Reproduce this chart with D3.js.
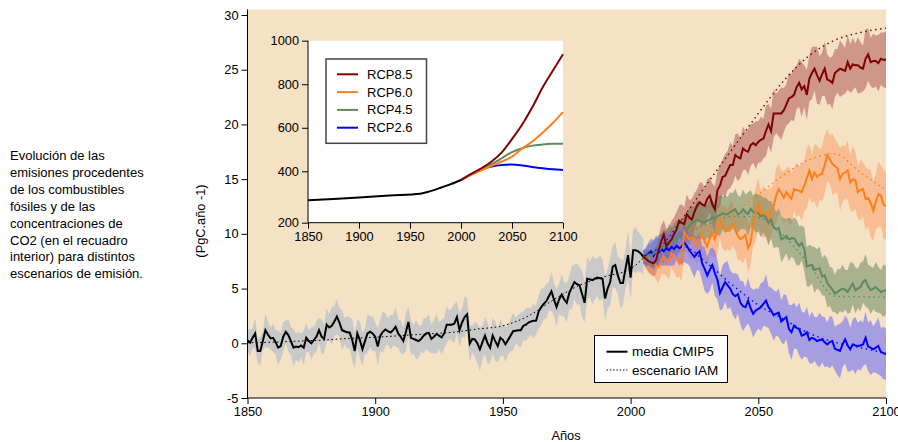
<!DOCTYPE html>
<html><head><meta charset="utf-8">
<script src="https://cdn.jsdelivr.net/npm/d3@7"></script>
<style>
body{margin:0;background:#fff}
svg{display:block}
text{font-family:"Liberation Sans",Arial,sans-serif;fill:#000}
</style>
</head><body>
<svg id="c" width="898" height="442"></svg>
<script>
// ---------------- DATA ----------------
const xTicks = [1850, 1900, 1950, 2000, 2050, 2100];
const yTicks = [-5, 0, 5, 10, 15, 20, 25, 30];
const insetXTicks = [1850, 1900, 1950, 2000, 2050, 2100];
const insetYTicks = [200, 400, 600, 800, 1000];

const descLines = ["Evolución de las", "emisiones procedentes", "de los combustibles",
  "fósiles y de las", "concentraciones de", "CO2 (en el recuadro",
  "interior) para distintos", "escenarios de emisión."];

// historical CMIP5 mean, annual 1850..2005 (PgC/año)
const histStart = 1850;
const histMean = [
  0.27, 0.06, 0.5, 0.9, -0.7, -0.7, 0.2, 1.2, 0.8, 0.45,
  0.5, 0.1, -0.4, -0.25, 0.6, 1.05, 0.75, 0.2, -0.4, -0.3,
  -0.35, -0.2, -0.4, 0.5, 0.2, 0.0, 0.3, 0.6, 1.2, 0.6,
  0.4, 1.7, 1.45, 1.6, 2.0, 2.45, 1.9, 1.2, 1.1, 1.0,
  0.98, 0.3, -0.7, 0.9, 0.3, -0.55, 0.2, 0.9, 1.05, 0.9,
  0.6, -0.3, 0.7, 1.05, 1.25, 1.1, 0.98, 1.2, 1.5, 0.9,
  0.6, 0.2, 1.0, 1.95, 0.5, 0.4, 0.3, 0.2, 0.4, 0.7,
  0.9, 0.95, 0.4, 0.6, 0.85, 0.7, 0.55, 0.9, 1.7, 1.7,
  1.7, 1.8, 2.4, 1.2, 1.9, 2.4, 2.65, -0.03, 0.4, 0.35,
  0.0, -0.55, 0.1, 0.7, 0.0, -0.4, 0.7, 0.2, -0.25, 0.5,
  0.3, -0.1, 0.3, 0.7, 1.1, 1.15, 1.2, 1.2, 1.6, 1.7,
  1.9, 2.0, 2.05, 2.06, 2.9, 3.3, 3.6, 3.85, 4.3, 4.75,
  4.0, 3.3, 4.0, 4.45, 4.0, 3.7, 4.6, 5.1, 5.6, 5.4,
  5.3, 4.5, 3.7, 5.9, 5.85, 5.77, 5.9, 6.0, 5.95, 5.9,
  4.1, 5.0, 5.6, 7.0, 7.15, 6.2, 5.5, 5.5, 6.8, 8.05,
  6.0, 8.5, 8.5, 8.4, 8.2, 7.9
];
const histSpread = [
  1.0, 1.2, 0.9, 1.4, 1.1, 1.3, 0.9, 1.5, 1.2, 1.0,
  1.3, 1.1, 1.6, 1.2, 1.4, 1.0, 1.5, 1.3, 1.7, 1.2,
  1.4, 1.1, 1.6, 1.3, 1.0, 1.5, 1.2, 1.4, 1.1, 1.6,
  1.3, 1.5, 1.2, 1.7, 1.4, 1.6, 1.3, 1.8, 1.2, 1.5,
  1.4, 1.9, 1.6, 1.3, 1.7, 1.5, 1.2, 1.8, 1.4, 1.6,
  1.3, 1.7, 1.4, 1.9, 1.5, 1.2, 1.6, 1.4, 1.8, 1.3,
  1.5, 1.2, 1.7, 1.4, 1.6, 1.3, 1.8, 1.5, 1.2, 1.6,
  1.4, 1.7, 1.3, 1.5, 1.8, 1.2, 1.6, 1.4, 1.7, 1.3,
  1.5, 1.8, 1.4, 1.6, 1.3, 1.9, 1.5, 1.7, 1.2, 1.6,
  1.8, 2.0, 1.5, 1.7, 1.9, 1.4, 1.6, 1.8, 1.5, 1.7,
  1.4, 1.6, 1.3, 1.5, 1.7, 1.2, 1.4, 1.6, 1.3, 1.5,
  1.4, 1.2, 1.6, 1.3, 1.5, 1.7, 1.4, 1.6, 1.3, 1.8,
  1.5, 1.7, 1.4, 1.9, 1.6, 1.8, 1.5, 2.0, 1.6, 1.9,
  1.7, 2.1, 1.8, 2.0, 1.6, 2.2, 1.9, 1.7, 2.1, 1.8,
  2.0, 1.8, 2.2, 1.9, 2.1, 1.7, 2.3, 2.0, 1.8, 2.2,
  2.0, 1.9, 2.1, 1.8, 1.7, 1.6
];
// IAM historical scenario (dotted)
const histIamYears = [1850, 1860, 1870, 1880, 1890, 1900, 1910, 1920, 1930, 1940, 1950, 1960, 1970, 1980, 1990, 2000, 2005];
const histIam = [0.05, 0.1, 0.2, 0.3, 0.45, 0.55, 0.7, 0.85, 1.0, 1.3, 1.6, 2.5, 4.0, 5.3, 6.1, 6.8, 7.8];

// RCP CMIP5 means, annual 2005..2100
const rcpStart = 2005;
const rcp85 = [
  7.9, 7.7, 7.5, 7.4, 7.3,
  7.6, 8.55, 9.3, 9.94, 8.86, 9.2, 9.48, 10.0, 10.4, 11.2,
  11.0, 10.9, 11.8, 11.5, 11.3, 12.0, 12.56, 12.9, 12.7, 12.56,
  13.2, 13.5, 12.7, 12.25, 14.0, 14.4, 15.2, 15.3, 15.8, 16.3,
  16.3, 17.2, 17.0, 16.9, 17.8, 17.6, 17.5, 18.1, 18.3, 18.1,
  18.4, 18.6, 18.7, 19.4, 20.0, 19.4, 21.0, 21.0, 21.0, 21.0,
  21.3, 21.8, 22.4, 22.5, 22.7, 23.4, 23.8, 23.2, 23.5, 22.7,
  24.2, 24.7, 25.1, 24.5, 24.0, 24.6, 25.1, 24.1, 24.0, 23.8,
  24.7, 24.9, 25.1, 25.0, 24.9, 25.7, 25.1, 25.5, 25.4, 25.4,
  25.2, 25.1, 26.0, 26.4, 25.7, 25.8, 25.8, 25.6, 26.0, 25.9,
  25.9
];
const rcp60 = [
  7.9, 7.6, 7.5, 7.4, 7.3,
  7.1, 7.0, 7.5, 7.9, 7.6, 7.5, 8.2, 8.0, 7.8, 7.5,
  7.3, 10.2, 9.8, 9.5, 9.7, 9.4, 8.9, 9.4, 9.9, 9.3,
  8.86, 9.6, 10.1, 9.5, 10.3, 11.3, 10.55, 10.5, 10.4, 10.7,
  10.9, 10.3, 9.8, 9.5, 9.7, 9.9, 8.7, 9.17, 11.0, 11.8,
  12.9, 11.9, 12.0, 11.9, 11.5, 12.0, 12.56, 13.5, 14.1, 13.7,
  13.3, 13.8, 13.5, 13.2, 14.1, 14.0, 13.95, 13.8, 14.4, 15.1,
  15.8, 15.0, 15.6, 15.2, 15.4, 15.5, 16.3, 17.2, 16.8, 16.4,
  16.2, 16.0, 15.0, 15.5, 15.6, 15.8, 14.7, 15.0, 14.9, 13.8,
  14.0, 14.1, 13.2, 13.3, 12.8, 12.1, 12.9, 13.6, 13.5, 12.7,
  12.5
];
const rcp45 = [
  7.9, 7.8, 8.1, 8.0, 8.2,
  8.4, 8.5, 8.7, 8.9, 9.0, 9.3, 9.2, 9.6, 9.5, 9.8,
  9.9, 10.1, 10.4, 10.7, 11.0, 11.1, 11.3, 11.2, 11.1, 11.0,
  11.2, 11.3, 11.5, 11.4, 11.6, 11.7, 11.9, 11.8, 11.8, 12.0,
  12.1, 12.25, 11.8, 11.9, 12.25, 12.0, 11.8, 12.3, 12.0, 11.9,
  11.9, 11.6, 11.7, 11.5, 11.0, 11.3, 10.6, 10.4, 10.55, 9.5,
  9.6, 9.8, 9.5, 9.6, 9.6, 9.2, 8.9, 9.17, 8.6, 7.0,
  7.1, 7.16, 6.7, 6.8, 6.85, 6.1, 6.2, 5.5, 5.2, 4.9,
  4.54, 4.7, 4.85, 5.0, 4.9, 4.7, 5.1, 5.45, 4.85, 5.0,
  5.15, 5.6, 5.77, 5.2, 4.85, 5.0, 5.15, 4.9, 4.69, 4.8,
  4.85
];
const rcp26 = [
  7.9, 8.0, 8.2, 8.4, 8.0,
  8.5, 8.3, 8.6, 8.4, 8.7, 8.5, 8.8, 8.6, 8.9, 8.7,
  8.8, 9.2, 8.9, 8.5, 8.2, 7.9, 8.2, 8.4, 7.3, 6.8,
  6.2, 6.7, 7.15, 6.4, 5.8, 4.6, 5.1, 5.6, 5.3, 5.0,
  4.5, 4.3, 4.5, 3.7, 3.4, 3.3, 3.9, 3.2, 2.7, 3.0,
  3.15, 3.3, 3.6, 3.9, 3.3, 3.0, 2.55, 2.7, 2.8, 2.0,
  2.2, 2.4, 1.3, 1.0, 1.6, 1.4, 1.3, 0.7, 0.8, 1.0,
  0.3, 0.5, 0.4, 0.2, 0.3, 0.35, 0.1, -0.1, 0.1, 0.2,
  -0.5, -0.6, -0.7, -0.1, 0.35, -0.2, -0.55, -0.1, -0.2, -0.25,
  -0.2, -0.1, 0.5, -0.3, -0.4, -0.55, -0.4, -0.25, -0.8, -0.9,
  -1.0
];
const spread85 = [
  0.6, 0.8, 1.0, 1.1, 1.2,
  1.3, 1.2, 1.5, 1.3, 1.6, 1.4, 1.7, 1.5, 1.6, 1.4,
  1.7, 1.5, 1.8, 1.6, 1.9, 1.7, 1.5, 1.8, 2.0, 1.6,
  1.8, 1.6, 1.9, 2.1, 1.7, 1.9, 1.6, 2.0, 1.8, 2.1,
  1.7, 1.9, 2.2, 1.8, 2.0, 1.7, 2.1, 1.9, 1.8, 2.2,
  1.9, 2.1, 1.8, 2.3, 1.9, 2.0, 2.2, 1.8, 2.1, 2.4,
  2.0, 1.9, 2.3, 2.1, 2.4, 2.0, 2.2, 2.5, 1.9, 2.3,
  2.1, 2.4, 2.0, 2.6, 2.2, 2.0, 2.5, 2.3, 2.1, 2.4,
  2.2, 2.0, 2.6, 2.3, 2.1, 2.5, 2.2, 2.4, 2.0, 2.6,
  2.3, 2.1, 2.7, 2.4, 2.2, 2.5, 2.3, 2.6, 2.4, 2.5,
  2.6
];
const spread60 = [
  0.6, 0.8, 1.0, 1.2, 1.1,
  1.3, 1.5, 1.2, 1.6, 1.4, 1.7, 1.3, 1.5, 1.8, 1.4,
  1.6, 1.9, 1.5, 1.7, 2.0, 1.6, 1.8, 1.5, 2.1, 1.7,
  1.9, 1.6, 2.0, 1.8, 2.2, 1.7, 1.9, 2.1, 1.8, 2.3,
  2.0, 1.8, 2.2, 1.9, 2.4, 2.0, 2.3, 1.9, 2.1, 2.5,
  2.2, 2.0, 2.4, 2.1, 2.6, 2.2, 2.0, 2.5, 2.3, 2.1,
  2.4, 2.2, 2.7, 2.3, 2.0, 2.5, 2.2, 2.6, 2.3, 2.8,
  2.4, 2.2, 2.6, 2.9, 2.3, 2.5, 2.7, 2.4, 2.2, 2.8,
  2.5, 2.3, 2.9, 2.6, 2.4, 2.7, 2.5, 3.0, 2.6, 2.4,
  2.8, 2.5, 2.9, 2.6, 3.1, 2.7, 2.5, 3.0, 2.8, 3.2,
  3.0
];
const spread45 = [
  0.6, 0.8, 1.0, 1.1, 1.3,
  1.2, 1.4, 1.3, 1.5, 1.2, 1.6, 1.4, 1.3, 1.7, 1.5,
  1.4, 1.6, 1.3, 1.7, 1.5, 1.4, 1.8, 1.6, 1.5, 1.7,
  1.5, 1.8, 1.6, 1.4, 1.7, 1.9, 1.5, 1.7, 1.6, 1.8,
  1.6, 1.9, 1.7, 1.5, 1.8, 1.6, 2.0, 1.7, 1.5, 1.8,
  1.7, 1.9, 1.6, 1.8, 2.0, 1.7, 1.9, 1.6, 1.8, 2.1,
  1.8, 1.6, 2.0, 1.7, 1.9, 2.1, 1.8, 1.6, 2.0, 1.8,
  1.9, 1.7, 2.1, 1.8, 2.0, 1.7, 1.9, 2.2, 1.8, 2.0,
  1.7, 2.1, 1.9, 2.2, 1.8, 2.0, 2.3, 1.9, 2.1, 1.8,
  2.2, 1.9, 2.4, 2.0, 2.2, 1.9, 2.3, 2.1, 2.0, 2.4,
  2.2
];
const spread26 = [
  0.6, 0.8, 1.0, 1.2, 1.3,
  1.4, 1.2, 1.5, 1.3, 1.6, 1.4, 1.7, 1.5, 1.3, 1.6,
  1.5, 1.8, 1.6, 1.4, 1.7, 1.9, 1.5, 1.8, 1.6, 2.0,
  1.7, 1.9, 1.6, 2.1, 1.8, 1.6, 2.0, 1.8, 2.2, 1.7,
  1.9, 2.1, 1.8, 2.0, 2.3, 1.8, 2.1, 1.9, 2.2, 2.0,
  1.8, 2.2, 2.0, 2.4, 1.9, 2.1, 2.3, 2.0, 2.2, 1.9,
  2.3, 2.0, 2.2, 2.5, 2.1, 1.9, 2.4, 2.2, 2.0, 2.3,
  2.1, 2.4, 2.0, 2.2, 2.5, 2.1, 2.3, 2.0, 2.4, 2.2,
  2.0, 2.3, 2.5, 2.1, 2.2, 2.4, 2.0, 2.3, 2.6, 2.1,
  2.3, 2.0, 2.4, 2.2, 2.5, 2.1, 2.3, 2.6, 2.2, 2.4,
  2.3
];
// IAM scenario emissions (dotted)
const iamYears = [2005, 2010, 2020, 2030, 2040, 2050, 2060, 2070, 2080, 2090, 2100];
const iam85 = [7.8, 8.4, 11.3, 14.6, 17.8, 21.0, 24.0, 26.3, 27.7, 28.4, 28.8];
const iam60 = [7.8, 8.0, 8.9, 10.4, 11.9, 13.6, 15.4, 16.8, 17.3, 15.6, 14.0];
const iam45 = [7.8, 8.4, 9.8, 10.9, 11.6, 11.5, 9.8, 7.2, 4.3, 4.25, 4.2];
const iam26 = [7.8, 8.4, 8.9, 7.3, 5.3, 3.5, 2.2, 0.9, 0.1, -0.4, -0.9];

// inset: CO2 concentration (ppm)
const co2HistYears = [1850, 1875, 1900, 1930, 1960, 1970, 1980, 1990, 2000];
const co2Hist = [287, 292, 298, 306, 313, 323, 336, 350, 366];
const co2Years = [2000, 2010, 2020, 2030, 2040, 2050, 2060, 2070, 2080, 2090, 2100];
const co285 = [366, 390, 414, 445, 487, 548, 615, 695, 785, 862, 938];
const co260 = [366, 386, 405, 425, 445, 467, 505, 537, 577, 622, 672];
const co245 = [366, 388, 410, 433, 460, 488, 506, 518, 523, 526, 527];
const co226 = [366, 388, 408, 422, 429, 431, 427, 420, 414, 409, 406];

const scenNames = ["RCP8.5", "RCP6.0", "RCP4.5", "RCP2.6"];
const legendMain = ["media CMIP5", "escenario IAM"];

// ---------------- DRAW ----------------
const colors = {"RCP8.5": "#800000", "RCP6.0": "#ff7f1a", "RCP4.5": "#5f8a60", "RCP2.6": "#0000ff"};
const bandFill = {"RCP8.5": "rgba(150,40,50,0.40)", "RCP6.0": "rgba(255,140,80,0.42)",
                  "RCP4.5": "rgba(80,120,80,0.45)", "RCP2.6": "rgba(95,95,255,0.52)"};
const scenMean = {"RCP8.5": rcp85, "RCP6.0": rcp60, "RCP4.5": rcp45, "RCP2.6": rcp26};
const scenSpread = {"RCP8.5": spread85, "RCP6.0": spread60, "RCP4.5": spread45, "RCP2.6": spread26};
const scenIam = {"RCP8.5": iam85, "RCP6.0": iam60, "RCP4.5": iam45, "RCP2.6": iam26};
const scenCo2 = {"RCP8.5": co285, "RCP6.0": co260, "RCP4.5": co245, "RCP2.6": co226};
const plainFmt = d => String(d);

const svg = d3.select("#c");
const L = 247.5, R = 886, B = 398, T = 9.5;
const x = d3.scaleLinear().domain([1850, 2100]).range([L, R]);
const y = d3.scaleLinear().domain([-5, 30]).range([B, 15]);

svg.append("defs").append("clipPath").attr("id", "plotclip")
  .append("rect").attr("x", L).attr("y", T).attr("width", R - L).attr("height", B - T);

svg.append("rect").attr("x", L).attr("y", T).attr("width", R - L).attr("height", B - T)
  .attr("fill", "#f5e1c3");

const plot = svg.append("g").attr("clip-path", "url(#plotclip)");

const histData = histMean.map((v, i) => ({yr: histStart + i, v, s: histSpread[i]}));
const band = d3.area().x(d => x(d.yr)).y0(d => y(d.v - d.s)).y1(d => y(d.v + d.s));
const line = d3.line().x(d => x(d.yr)).y(d => y(d.v));
const smooth = d3.line().x(d => x(d.yr)).y(d => y(d.v)).curve(d3.curveMonotoneX);

plot.append("path").datum(histData).attr("d", band).attr("fill", "#c9c9c9");

const scenData = {};
scenNames.forEach(n => {
  scenData[n] = scenMean[n].map((v, i) => ({yr: rcpStart + i, v, s: scenSpread[n][i]}));
});
["RCP8.5", "RCP6.0", "RCP4.5", "RCP2.6"].forEach(n => {
  plot.append("path").datum(scenData[n]).attr("d", band).attr("fill", bandFill[n]);
});

// dotted IAM
plot.append("path").datum(histIam.map((v, i) => ({yr: histIamYears[i], v})))
  .attr("d", smooth).attr("fill", "none").attr("stroke", "#000")
  .attr("stroke-width", 1).attr("stroke-dasharray", "1.6,2.6");
scenNames.forEach(n => {
  plot.append("path").datum(scenIam[n].map((v, i) => ({yr: iamYears[i], v})))
    .attr("d", smooth).attr("fill", "none").attr("stroke", colors[n])
    .attr("stroke-width", 1.4).attr("stroke-dasharray", "1.5,3.5");
});

plot.append("path").datum(histData).attr("d", line).attr("fill", "none")
  .attr("stroke", "#000").attr("stroke-width", 2).attr("stroke-linejoin", "miter");
["RCP2.6", "RCP4.5", "RCP6.0", "RCP8.5"].forEach(n => {
  plot.append("path").datum(scenData[n]).attr("d", line).attr("fill", "none")
    .attr("stroke", colors[n]).attr("stroke-width", 2);
});

// main axes
const fs = "12.8px";
const gx = svg.append("g").attr("transform", `translate(0,${B})`)
  .call(d3.axisBottom(x).tickValues(xTicks).tickFormat(plainFmt).tickSize(6).tickPadding(3));
const gy = svg.append("g").attr("transform", `translate(${L},0)`)
  .call(d3.axisLeft(y).tickValues(yTicks).tickFormat(plainFmt).tickSize(6).tickPadding(3));
[gx, gy].forEach(g => {
  g.select(".domain").remove();
  g.attr("font-family", null).attr("font-size", null);
  g.selectAll("text").style("font-size", fs);
  g.selectAll("line").attr("stroke", "#000");
});
svg.append("line").attr("x1", L).attr("x2", L).attr("y1", T).attr("y2", B + 0.5).attr("stroke", "#000");
svg.append("line").attr("x1", L).attr("x2", R).attr("y1", B).attr("y2", B).attr("stroke", "#000");

svg.append("text").attr("x", 566).attr("y", 440).attr("text-anchor", "middle")
  .style("font-size", "12.8px").text("Años");
svg.append("text").attr("transform", "translate(205,221) rotate(-90)").attr("text-anchor", "middle")
  .style("font-size", "12.8px").text("(PgC.año -1)");

// description text
svg.append("g").selectAll("text").data(descLines).join("text")
  .attr("x", 10).attr("y", (d, i) => 160 + i * 16.9)
  .style("font-size", "13px").text(d => d);

// main legend
const lg = svg.append("g");
lg.append("rect").attr("x", 594.5).attr("y", 335.5).attr("width", 133).attr("height", 47)
  .attr("fill", "#fff").attr("stroke", "#000").attr("stroke-width", 1);
legendMain.forEach((t, i) => {
  const yy = 351.7 + i * 18.3;
  lg.append("line").attr("x1", 606.5).attr("x2", 627.5).attr("y1", yy).attr("y2", yy)
    .attr("stroke", "#000").attr("stroke-width", i === 0 ? 2 : 1)
    .attr("stroke-dasharray", i === 0 ? null : "1.5,1.8");
  lg.append("text").attr("x", 632).attr("y", yy).attr("dy", "0.35em")
    .style("font-size", "13.5px").text(t);
});

// ---------------- INSET ----------------
const iL = 308, iR = 563, iT = 40.7, iB = 222.7;
const ix = d3.scaleLinear().domain([1850, 2100]).range([iL, iR]);
const iy = d3.scaleLinear().domain([200, 400, 1000]).range([iB, 171.3, iT]);
svg.append("rect").attr("x", iL).attr("y", iT).attr("width", iR - iL).attr("height", iB - iT).attr("fill", "#fff");
const ig = svg.append("g");
const iline = d3.line().x(d => ix(d.yr)).y(d => iy(d.v)).curve(d3.curveMonotoneX);
["RCP2.6", "RCP4.5", "RCP6.0", "RCP8.5"].forEach(n => {
  ig.append("path").datum(scenCo2[n].map((v, i) => ({yr: co2Years[i], v})))
    .attr("d", iline).attr("fill", "none").attr("stroke", colors[n]).attr("stroke-width", 2);
});
ig.append("path").datum(co2Hist.map((v, i) => ({yr: co2HistYears[i], v})))
  .attr("d", iline).attr("fill", "none").attr("stroke", "#000").attr("stroke-width", 2);

const igx = svg.append("g").attr("transform", `translate(0,${iB})`)
  .call(d3.axisBottom(ix).tickValues(insetXTicks).tickFormat(plainFmt).tickSize(6).tickPadding(3));
const igy = svg.append("g").attr("transform", `translate(${iL},0)`)
  .call(d3.axisLeft(iy).tickValues(insetYTicks).tickFormat(plainFmt).tickSize(6).tickPadding(3));
[igx, igy].forEach(g => {
  g.select(".domain").remove();
  g.attr("font-family", null).attr("font-size", null);
  g.selectAll("text").style("font-size", fs);
  g.selectAll("line").attr("stroke", "#000");
});
svg.append("line").attr("x1", iL).attr("x2", iL).attr("y1", iT).attr("y2", iB).attr("stroke", "#000");
svg.append("line").attr("x1", iL).attr("x2", iR).attr("y1", iB).attr("y2", iB).attr("stroke", "#000");

// inset legend
const il = svg.append("g");
il.append("rect").attr("x", 326).attr("y", 59).attr("width", 100.5).attr("height", 84.3)
  .attr("fill", "#fff").attr("stroke", "#444").attr("stroke-width", 1.5);
scenNames.forEach((n, i) => {
  const yy = 74.3 + i * 17.8;
  il.append("line").attr("x1", 337).attr("x2", 358).attr("y1", yy).attr("y2", yy)
    .attr("stroke", colors[n]).attr("stroke-width", 2);
  il.append("text").attr("x", 367).attr("y", yy).attr("dy", "0.35em")
    .style("font-size", "13px").text(n);
});
</script>
</body></html>
